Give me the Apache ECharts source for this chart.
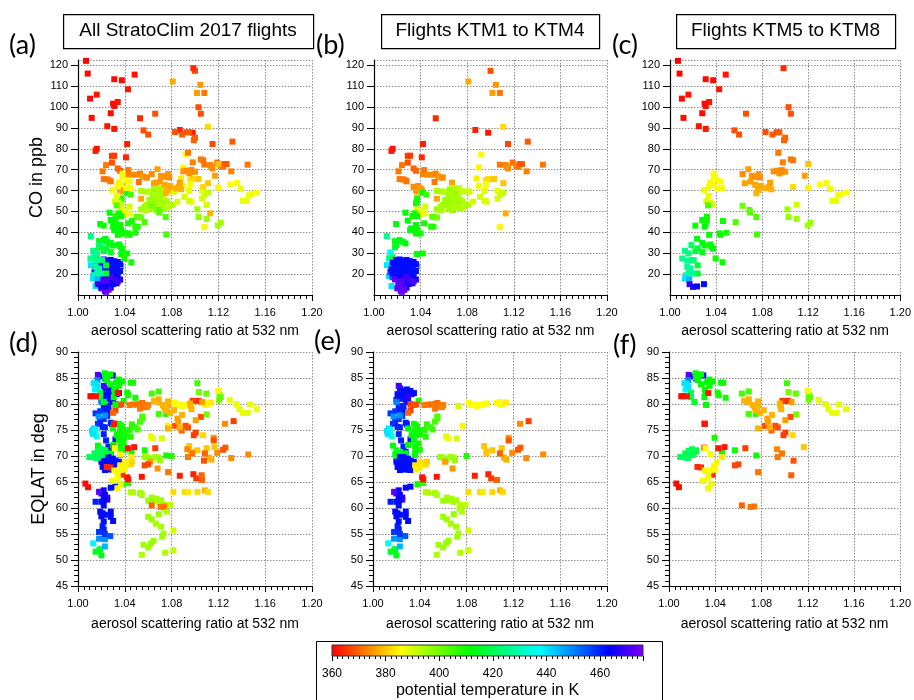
<!DOCTYPE html>
<html><head><meta charset="utf-8">
<script src="https://cdn.jsdelivr.net/npm/echarts@6/dist/echarts.min.js"></script>
<style>html,body{margin:0;padding:0;background:#fff}#c{width:914px;height:700px}</style>
</head><body><div id="c"></div>
<script>
// ---------------- data ----------------
const panelTitles = ['All StratoClim 2017 flights', 'Flights KTM1 to KTM4', 'Flights KTM5 to KTM8'];
const panelLetters = ['(a)', '(b)', '(c)', '(d)', '(e)', '(f)'];
const xAxisName = 'aerosol scattering ratio at 532 nm';
const yNameTop = 'CO in ppb';
const yNameBottom = 'EQLAT in deg';
const colorbarName = 'potential temperature in K';
const thetaRange = [360, 476];
const rainbow = ['#ff0000','#ff8000','#ffff00','#80ff00','#00ff00','#00ff80','#00ffff','#0080ff','#0000ff','#8000ff'];

// [scattering ratio, CO ppb, theta K]  flights KTM1-KTM4
const ktm14_CO = [
[1.100,117.3,368],[1.081,112.2,377],[1.1046,110.6,375],[1.1017,106.7,376],[1.108,106.7,372],
[1.053,94.6,364],[1.087,89,363],[1.098,87.7,362],[1.111,90.5,382],[1.115,82.3,367],[1.132,83.4,369],
[1.042,82.3,363],[1.041,75.9,364],[1.016,80,362],[1.015,79,362],[1.029,76.6,366],[1.031,76.7,366],
[1.029,73.4,368],[1.024,72.2,372],[1.021,69.2,372],[1.022,65.5,372],[1.025,65.4,372],[1.027,64.9,373],[1.028,64.4,372],
[1.034,70.6,370],[1.036,69.5,370],[1.042,67.9,373],[1.043,69.8,372],[1.046,67.6,374],[1.050,67.6,374],[1.053,68.1,373],
[1.055,66.8,375],[1.058,66.3,375],[1.059,66.2,374],[1.052,64.1,372],
[1.034,61.8,374],[1.038,62.2,374],[1.040,61.1,375],[1.036,60.3,374],[1.041,60.3,375],[1.037,59.5,376],
[1.054,56.1,377],[1.067,63.8,376],
[1.042,59,412],[1.045,58,405],[1.037,55.8,408],[1.037,54.7,408],
[1.054,59.8,394],[1.058,59.5,395],[1.062,59.6,393],[1.065,60.6,396],[1.069,61.1,394],[1.071,60.3,395],[1.073,61.1,393],
[1.074,59.5,392],[1.079,59.6,392],[1.082,59.5,390],[1.070,58.6,396],[1.067,57.8,395],[1.064,57,396],[1.068,56.2,394],
[1.072,56.7,395],[1.074,55.5,393],[1.076,54.8,394],[1.072,53.9,396],[1.069,54.7,395],[1.065,54.7,396],[1.062,53.6,395],
[1.059,53.1,396],[1.057,52.3,395],[1.054,51,396],[1.058,50.7,394],[1.064,51.5,395],[1.067,50.7,396],[1.071,52,394],
[1.074,51.5,395],[1.077,52,393],[1.066,52.6,395],[1.061,55.5,396],[1.081,53.2,394],[1.085,54.7,390],
[1.052,47.3,400],[1.054,47.1,400],[1.050,47.5,402],[1.051,42.7,408],[1.049,42.7,408],
[1.037,51,388],[1.040,50,388],[1.044,49,387],[1.039,48.4,389],[1.044,52.3,390],
[1.092,77.3,386],[1.090,71,385],[1.088,65.8,384],[1.090,62.3,387],[1.096,65,383],[1.098,65.5,382],[1.096,63,386],
[1.095,59.8,388],[1.097,54.7,388],[1.095,55,390],[1.091,57,390],[1.103,65.5,380],[1.106,59.9,388],[1.108,57.9,390],
[1.111,59,392],[1.106,56.1,390],[1.111,63.5,380],[1.108,42.5,385],[1.113,49.1,378],
[1.108,72.4,372],[1.113,72.2,373],[1.115,70.6,374],[1.119,73.4,371],[1.122,71.9,373],[1.124,71.4,372],[1.125,72.7,369],
[1.127,72.7,369],[1.131,69.2,373],[1.145,72.4,372],[1.114,71.4,374],
[1.027,49.4,412],[1.029,45.6,412],[1.033,47.8,410],[1.037,47.8,411],[1.035,49.1,410],[1.036,53.9,410],[1.037,56.3,409],
[1.031,41.1,412],[1.032,41.9,413],[1.036,43.5,412],[1.037,41.1,411],[1.038,39.5,412],[1.036,39.5,411],[1.040,39.5,410],
[1.019,44,412],[1.043,44.3,410],[1.037,29.6,412],[1.042,29.9,410],[1.037,23.8,414],[1.018,35.8,414],[1.022,36.3,413],
[1.025,35.5,414],[1.019,33.9,414],[1.018,32.8,415],[1.027,34.7,413],
[1.011,38.2,425],[1.014,30.4,438],[1.011,24.3,440],[1.013,19,442],[1.015,14.3,440],[1.013,27.6,425],[1.016,28,420],
[1.014,21,455],[1.016,18.5,455],[1.017,23.5,455],
[1.016,25.5,462],[1.019,26.8,462],[1.022,27,462],[1.025,26.5,462],[1.028,26.8,462],[1.031,26.2,462],[1.034,25.8,462],
[1.018,24,462],[1.021,24.5,462],[1.024,24.2,462],[1.027,24.6,462],[1.030,24,462],[1.033,23.5,462],[1.036,24.8,462],
[1.015,22.3,462],[1.018,22,462],[1.021,22.5,462],[1.024,21.8,462],[1.027,22.3,462],[1.030,21.9,462],[1.033,22.2,462],
[1.036,21.5,462],[1.016,20.2,462],[1.019,20,462],[1.022,19.7,462],[1.025,20.3,462],[1.028,19.8,462],[1.031,20.1,462],
[1.034,19.5,462],[1.020,18,464],[1.023,17.6,464],[1.026,18.1,464],[1.029,17.8,464],[1.032,18.2,464],[1.036,17.4,464],
[1.021,15.8,465],[1.024,15.5,465],[1.027,16,465],[1.030,15.3,465],[1.033,15.6,465],[1.022,13.8,466],[1.025,14.2,466],
[1.028,13.5,466],[1.023,12,468],[1.026,12.5,468],
[1.018,17.5,472],[1.021,16.5,472],[1.024,16.8,472],[1.028,18.7,470],[1.022,14.6,473],[1.026,13,473],[1.020,13.2,472],
[1.024,11.5,474],[1.031,17,470],[1.034,16.5,470]
];

// flights KTM5-KTM8
const ktm58_CO = [
[1.0069,122.1,360],[1.0083,116,361],[1.031,113.3,361],[1.0375,112.8,361],[1.0484,115.5,362],[1.0427,108.5,362],
[1.016,105.9,362],[1.0103,104,361],[1.030,101.6,361],[1.031,100.5,361],[1.034,102.4,362],[1.028,97,361],
[1.0117,94.8,361],[1.025,90.8,362],[1.031,89.5,362],
[1.0986,118.6,364],[1.103,99.9,368],[1.105,96.8,368],[1.066,96.8,368],[1.056,88.8,368],[1.060,86.8,368],
[1.083,88,368],[1.089,86.8,369],[1.0926,87.9,368],[1.095,87.9,369],[1.100,85.3,370],[1.099,84.1,370],
[1.094,78.1,372],[1.098,73.5,373],[1.105,74.9,372],[1.107,74.5,372],[1.068,70.2,376],[1.063,67.9,374],[1.071,67,375],
[1.074,66.6,374],[1.076,66.8,375],[1.078,66.3,374],[1.077,67.9,375],[1.065,63.5,376],[1.070,64.3,376],[1.074,62.7,377],
[1.076,61.1,378],[1.075,58.7,378],[1.077,60.3,378],[1.079,62.2,377],[1.083,61.1,378],[1.086,61.8,377],[1.087,63.8,376],
[1.088,60.6,378],[1.090,69.2,375],[1.093,69.5,374],[1.095,68.2,375],[1.097,69,374],[1.100,69,375],[1.097,69.8,374],
[1.117,67.1,376],
[1.107,61.7,382],[1.120,72.7,380],[1.1198,61.4,385],
[1.130,62.9,386],[1.136,63.6,386],[1.139,60.7,387],[1.141,55.1,388],[1.144,55.1,388],[1.146,57.7,387],[1.148,58.2,387],
[1.153,59.1,386],
[1.110,53.2,390],[1.102,51,396],[1.103,47.3,397],[1.110,46.4,396],[1.1195,43.3,395],[1.122,44.6,396],
[1.038,68.1,386],[1.038,66.6,386],[1.0295,60.3,387],[1.034,61.9,386],[1.037,63,386],[1.035,63.8,385],[1.041,64.9,386],
[1.044,64.3,386],[1.045,61.1,387],[1.041,61.2,387],[1.0335,57.5,388],[1.0315,54.8,389],[1.035,54.3,389],[1.037,53.4,390],
[1.033,52.9,404],
[1.063,52.7,400],[1.069,50.7,402],[1.0695,49.6,403],[1.075,47.3,404],[1.057,44.9,404],[1.0755,39,405],
[1.032,47.5,410],[1.032,45.9,410],[1.028,45.9,411],[1.031,44,411],[1.022,43.2,410],[1.030,42.7,411],[1.046,45.4,410],
[1.043,39.5,410],[1.044,38.8,410],[1.049,39.8,409],[1.034,38.8,411],[1.035,34.2,412],[1.036,33.1,412],[1.0375,32.1,412],
[1.0396,27.5,410],[1.0456,25.7,410],[1.0235,36.9,414],[1.028,35,414],[1.030,33.7,413],[1.028,30.5,414],[1.024,32.3,416],
[1.022,31,418],[1.024,24.2,416],[1.024,20.3,416],
[1.013,31.2,425],[1.016,29.9,425],[1.0186,33.9,422],[1.0106,27.5,426],[1.015,26.4,427],[1.0186,26.7,425],[1.0206,26.7,424],
[1.015,23.5,427],[1.0166,21.9,428],[1.018,22.7,427],[1.0138,19.5,430],[1.016,20,428],[1.0195,20.3,427],
[1.0129,17.9,440],[1.0166,17.4,445],[1.017,15.2,468],[1.020,13.9,465],[1.0235,14.1,464],[1.0295,15.2,462]
];

// [scattering ratio, EQLAT deg, theta K]  flights KTM1-KTM4
const ktm14_EQ = [
[1.023,83,462],[1.026,82.6,462],[1.029,82.8,462],[1.032,82.5,462],[1.021,81.9,462],[1.025,81.7,462],[1.028,82,462],
[1.033,81.9,462],[1.035,82.1,462],[1.020,80.8,460],[1.023,81,462],[1.028,80.8,462],[1.030,80.4,462],[1.022,79.6,460],
[1.026,79.6,460],[1.023,78.8,460],[1.019,78.6,458],[1.015,78.2,458],[1.026,78.7,460],[1.025,77.7,458],[1.022,77.1,458],
[1.019,76.7,460],[1.017,76.2,458],[1.021,75.6,460],[1.023,75.5,460],[1.028,76.4,460],[1.029,76.1,460],[1.022,74.2,460],
[1.024,73,460],[1.026,71.8,460],[1.028,70.8,460],[1.032,73.2,462],
[1.022,83.5,470],[1.030,81.5,468],[1.025,68.5,470],[1.019,63.1,472],[1.022,62,470],[1.025,61.6,470],
[1.012,74.8,440],[1.0134,75.3,440],[1.015,75,438],[1.014,74.2,438],[1.016,73.8,435],[1.0125,74.3,440],[1.0176,77.6,448],
[1.020,80.4,450],[1.023,77.8,448],
[1.017,72,412],[1.020,71.1,414],[1.019,70.3,414],[1.022,70.2,414],[1.023,70.8,414],[1.020,69.5,418],[1.030,75.3,412],
[1.035,76.2,410],[1.037,75.9,410],[1.039,75,410],[1.036,75,410],[1.034,74.2,411],[1.037,74,410],[1.040,74.2,410],
[1.0375,75.6,410],[1.035,73,411],[1.039,72.4,410],[1.030,72.1,412],[1.036,71.8,411],[1.040,71.2,410],[1.028,70.5,412],
[1.036,70.2,411],[1.044,75,408],[1.045,73.7,408],[1.046,76.1,407],[1.049,75.5,406],[1.051,75.1,405],[1.053,76.6,405],
[1.055,77.2,404],[1.055,77.6,404],[1.039,80.6,410],[1.033,74,411],[1.036,70.6,411],
[1.038,64.6,410],[1.043,64.8,408],[1.015,51.6,415],[1.018,51.8,415],[1.020,50.9,414],[1.019,52.1,416],
[1.013,53.2,438],[1.018,54.1,448],[1.023,52.6,445],[1.023,54,448],
[1.022,63.4,462],[1.020,62.8,462],[1.023,62.5,464],[1.025,62,466],[1.022,61.5,464],[1.020,61.2,462],[1.015,61.2,460],
[1.022,60.5,462],[1.019,59.3,462],[1.021,59,462],[1.023,58.7,462],[1.020,58.4,462],[1.028,59.3,462],[1.028,58.3,462],
[1.030,57.5,462],[1.022,57.4,462],[1.021,56.5,460],[1.022,55.9,460],[1.018,55.4,458],[1.023,55,458],[1.0276,54.6,455],
[1.028,63.9,462],[1.032,64.1,462],[1.018,63.1,472],
[1.020,68.9,462],[1.023,69.2,462],[1.025,68.7,462],[1.027,69.1,462],[1.029,68.7,462],[1.032,69.1,462],[1.035,68.9,462],
[1.021,67.9,462],[1.023,68,464],[1.026,68.2,462],[1.028,67.8,462],[1.030,68,462],[1.033,67.9,462],[1.023,67.3,462],
[1.027,67.4,462],[1.030,67.4,462],[1.032,67.3,462],[1.023,69.8,462],[1.026,69.8,462],[1.030,69.5,462],
[1.036,68.2,384],[1.038,68,384],[1.040,68.2,383],[1.043,68.6,382],[1.045,68.4,382],[1.046,68.9,381],[1.040,68.9,383],
[1.037,67.4,385],[1.040,67.8,384],
[1.032,80,366],[1.035,79.8,368],[1.037,79.9,368],[1.044,79.8,372],[1.047,79.9,372],[1.050,79.9,371],[1.053,80,372],
[1.055,80.2,371],[1.055,79.4,372],[1.057,79.8,372],[1.059,79.4,373],[1.060,79.8,373],[1.053,79.1,372],[1.032,78.8,366],
[1.030,78.3,370],
[1.082,80.2,386],[1.0835,79.8,386],[1.087,79.9,386],[1.089,79.6,386],[1.0915,79.8,386],[1.094,79.9,386],[1.097,80.1,386],
[1.106,80.2,386],[1.1085,79.9,386],[1.111,79.9,386],[1.1136,80.3,384],[1.108,80.4,386],[1.073,79.6,390],
[1.095,71.9,380],[1.097,70.8,380],[1.097,70.5,380],[1.102,71.1,380],[1.110,71.5,380],[1.112,69.7,378],[1.114,69.3,378],
[1.116,73.5,375],[1.116,73,368],[1.1085,70.5,370],[1.119,70.6,374],[1.124,71.2,368],[1.126,71.6,369],[1.131,69.6,374],
[1.1455,70.3,374],[1.1256,76.2,374],[1.133,76.7,366],
[1.087,66.2,363],[1.0986,66.5,363],[1.101,65.7,366],[1.106,65.4,370],[1.0545,66,362],[1.043,65.5,362],[1.042,65.9,362],
[1.0815,63.1,382],[1.0915,63.1,382],[1.094,63.1,384],[1.102,63.1,382],[1.1085,63.4,378],[1.111,63.1,382],
[1.045,63.1,394],[1.047,63,394],[1.053,62.9,395],[1.0545,62.5,395],[1.063,62,395],[1.065,61.5,396],[1.067,61.8,395],
[1.069,61.2,395],[1.071,61.5,395],[1.060,61.4,396],[1.075,60.6,394],[1.079,60.6,392],[1.074,59.9,394],[1.076,59.3,394],
[1.060,58.3,396],[1.063,57.8,396],[1.0665,57,395],[1.071,56.4,395],[1.069,58.8,396],[1.073,55.1,395],[1.072,54.5,396],
[1.0645,53.7,396],[1.0625,53.2,396],[1.056,52.9,395],[1.060,52.4,396],[1.0545,51,394],[1.0745,51.4,394],[1.0815,51.9,392],
[1.0815,55.7,390],
[1.0574,69.8,396],[1.060,69.7,396],[1.063,69.3,396],[1.066,69.8,395],[1.069,69.7,396],[1.070,69.2,396],[1.080,70,408],
[1.0616,68.9,376],[1.068,67.6,375],[1.0767,75.8,385],[1.0625,73.8,388],[1.064,73.4,388],[1.0716,73.4,390]
];

// flights KTM5-KTM8
const ktm58_EQ = [
[1.017,85.6,472],[1.020,85.3,468],[1.0234,84.9,460],[1.0297,85.5,462],[1.0166,84.6,450],[1.0134,84,440],[1.0154,83.9,440],
[1.0143,82.8,438],[1.0166,83.3,440],
[1.0229,85.9,412],[1.0277,85.7,412],[1.0234,85.1,412],[1.025,84.6,412],[1.035,84.7,411],[1.0377,84.3,411],[1.0326,84.2,412],
[1.045,84.1,410],[1.047,84.1,410],[1.0277,83.8,412],[1.035,83.5,411],[1.031,82.8,412],[1.0314,82.2,412],[1.042,82.2,410],
[1.043,81.7,410],[1.0306,81.3,412],[1.019,82.2,420],[1.019,81.3,418],[1.022,80.4,415],[1.032,79.8,412],[1.049,81.2,410],
[1.0394,73.5,410],[1.0457,70.6,412],[1.057,71.1,410],[1.0754,70.1,410],[1.063,82,405],[1.069,82.4,405],[1.069,78.1,405],
[1.075,78.1,408],[1.102,84,405],[1.1034,82.3,400],[1.1097,82,402],[1.110,78,400],[1.1206,80.8,400],[1.121,81.7,400],
[1.122,81.3,402],
[1.0097,69.8,420],[1.0126,69.8,420],[1.015,70,420],[1.017,71,418],[1.018,70.5,420],[1.0206,70.2,420],[1.017,69.7,422],
[1.0229,70.8,418],[1.0234,71.1,418],[1.020,71.3,420],[1.0154,69.6,422],[1.014,70.5,420],
[1.0106,81.5,361],[1.0126,81.5,361],[1.0154,81.5,362],[1.0306,76.2,362],[1.031,76.2,362],[1.034,82.1,362],[1.0306,71.6,362],
[1.0426,71.5,362],[1.048,71.7,362],[1.0063,64.7,361],[1.0086,64,361],[1.0246,67.9,364],[1.0277,67.8,364],[1.0377,66.4,364],
[1.057,68.2,367],[1.060,68.4,367],[1.066,71.5,366],[1.098,80.6,366],[1.1029,80.6,364],[1.099,74,366],[1.1006,74.5,366],
[1.105,77.5,368],[1.083,75.8,368],[1.092,75.8,368],[1.094,75.5,368],[1.0886,74.9,370],[1.1077,69.1,368],[1.1057,66.3,370],
[1.063,60.5,370],[1.0706,60.2,372],[1.0737,60.3,372],[1.077,66.9,372],[1.094,69.8,372],[1.0934,71.3,374],[1.0977,70.5,372],
[1.065,80.6,378],[1.0686,80.3,378],[1.069,80.9,378],[1.0726,79.8,378],[1.074,79.3,378],[1.075,78.7,378],[1.077,79.8,378],
[1.077,80.5,378],[1.076,79,378],[1.079,78.3,378],[1.082,78.8,378],[1.0857,76.6,376],[1.085,77.2,376],[1.0869,75.5,378],
[1.089,77.9,378],[1.077,75.3,378],[1.0957,80.1,378],[1.0963,79.6,378],[1.097,79,378],[1.1006,76.9,376],[1.106,80.4,376],
[1.107,74,382],[1.1166,71.7,380],
[1.120,82.5,385],[1.1297,80.8,388],[1.1354,80,388],[1.138,79,388],[1.141,78.3,388],[1.145,78.3,388],[1.147,79.9,388],
[1.153,79,388],
[1.0314,71.5,386],[1.036,70.4,386],[1.031,67.2,386],[1.035,67.2,386],[1.038,67.4,386],[1.0337,66.5,386],[1.034,65.8,386],
[1.040,67.4,386],[1.041,68.8,385],[1.039,68.1,385],[1.0457,69.8,384],[1.029,65.2,387],[1.0337,63.8,387],[1.0366,64.6,388]
];

const all_CO = ktm14_CO.concat(ktm58_CO);
const all_EQ = ktm14_EQ.concat(ktm58_EQ);
const panelData = [all_CO, ktm14_CO, ktm58_CO, all_EQ, ktm14_EQ, ktm58_EQ];

// ---------------- layout ----------------
const grids = [
  {left:78, top:60, width:234, height:235},
  {left:374, top:60, width:233, height:235},
  {left:670, top:60, width:233, height:235},
  {left:78, top:352, width:234, height:234},
  {left:373, top:352, width:234, height:234},
  {left:669, top:352, width:234, height:234},
  {left:332, top:645, width:311, height:13}
];
const FONT = 'Liberation Sans, Arial, sans-serif';
const axisLineStyle = {color:'#000', width:1.2};
const splitLineStyle = {show:true, lineStyle:{color:'#8c8c8c', type:[1.5,1.5], width:1}};

const xAxes = [], yAxes = [], series = [];
for (let i = 0; i < 6; i++) {
  const top = i < 3;
  xAxes.push({
    type:'value', gridIndex:i, min:1.0, max:1.2, interval:0.04,
    axisLine:{show:true, onZero:false, lineStyle:axisLineStyle},
    axisTick:{show:true, inside:false, length:6, lineStyle:{color:'#000', width:1}},
    minorTick:{show:true, splitNumber:8, length:4, lineStyle:{color:'#000', width:1}},
    axisLabel:{formatter:v => v.toFixed(2), fontSize:11, color:'#000', margin:12, fontFamily:FONT},
    splitLine:splitLineStyle,
    name:xAxisName, nameLocation:'middle', nameGap:top ? 29 : 31,
    nameTextStyle:{fontSize:14, color:'#000', fontFamily:FONT}
  });
  yAxes.push({
    type:'value', gridIndex:i,
    min: top ? 10 : 45, max: top ? 122.5 : 90, interval: top ? 10 : 5,
    axisLine:{show:true, onZero:false, lineStyle:axisLineStyle},
    axisTick:{show:true, inside:false, length:7, lineStyle:{color:'#000', width:1}},
    minorTick:{show:!top, splitNumber:5, length:4, lineStyle:{color:'#000', width:1}},
    axisLabel:{fontSize:11, color:'#000', margin:10, fontFamily:FONT,
      showMinLabel: !top, showMaxLabel: !top},
    splitLine:splitLineStyle,
    name: (i === 0) ? yNameTop : (i === 3 ? yNameBottom : ''),
    nameLocation:'middle', nameGap:30,
    nameTextStyle:{fontSize:18, color:'#000', fontFamily:FONT}
  });
  series.push({
    type:'scatter', xAxisIndex:i, yAxisIndex:i, data:panelData[i],
    symbol:'rect', symbolSize:6, silent:true, animation:false,
    itemStyle:{opacity:1}
  });
}
// colorbar axes
xAxes.push({
  type:'value', gridIndex:6, min:thetaRange[0], max:thetaRange[1], interval:20,
  axisLine:{show:false},
  axisTick:{show:true, inside:false, length:5, lineStyle:{color:'#000', width:1}},
  minorTick:{show:true, splitNumber:10, length:3, lineStyle:{color:'#000', width:1}},
  axisLabel:{fontSize:12, color:'#000', margin:12, fontFamily:FONT, showMaxLabel:false},
  splitLine:{show:false},
  name:colorbarName, nameLocation:'middle', nameGap:27,
  nameTextStyle:{fontSize:16, color:'#000', fontFamily:FONT}
});
yAxes.push({type:'value', gridIndex:6, min:0, max:1, show:false});
series.push({
  type:'custom', xAxisIndex:6, yAxisIndex:6, silent:true, animation:false,
  data:[[thetaRange[0], thetaRange[1]]],
  renderItem:function(params, api){
    const p0 = api.coord([api.value(0), 1]);
    const p1 = api.coord([api.value(1), 0]);
    const stops = rainbow.map((c, k) => ({offset:k/(rainbow.length-1), color:c}));
    return {type:'rect', shape:{x:p0[0], y:p0[1], width:p1[0]-p0[0], height:p1[1]-p0[1]},
      style:{fill:new echarts.graphic.LinearGradient(0,0,1,0,stops), stroke:'#333', lineWidth:1}};
  }
});

// ---------------- decorations ----------------
const graphics = [];
const titleBoxes = [{x:63, w:250}, {x:381, w:218}, {x:676, w:219}];
titleBoxes.forEach((b, k) => {
  graphics.push({type:'rect', left:b.x, top:14, shape:{width:b.w, height:34},
    style:{fill:'#fff', stroke:'#000', lineWidth:1.2}, silent:true});
  graphics.push({type:'text', x:b.x + b.w/2, y:31, silent:true,
    style:{text:panelTitles[k], fontSize:19, fontFamily:FONT, fill:'#000', align:'center', verticalAlign:'middle'}});
});
const letterPos = [[9,45],[316,45],[612,45],[9,343],[314,341],[613,345]];
letterPos.forEach((p, k) => {
  graphics.push({type:'text', x:p[0], y:p[1], silent:true,
    style:{text:panelLetters[k], fontSize:27, fontFamily:'Lato, Open Sans, sans-serif', fill:'#000', align:'left', verticalAlign:'middle'}});
});
graphics.push({type:'rect', left:314, top:639, shape:{width:346, height:80},
  style:{fill:'none', stroke:'#000', lineWidth:1}, silent:true, z:-1});

const chart = echarts.init(document.getElementById('c'), null, {renderer:'canvas'});
chart.setOption({
  animation:false,
  backgroundColor:'#fff',
  grid: grids,
  xAxis: xAxes,
  yAxis: yAxes,
  visualMap: {type:'continuous', show:false, min:thetaRange[0], max:thetaRange[1], dimension:2,
    seriesIndex:[0,1,2,3,4,5], inRange:{color:rainbow}},
  series: series,
  graphic: graphics
});
</script></body></html>
